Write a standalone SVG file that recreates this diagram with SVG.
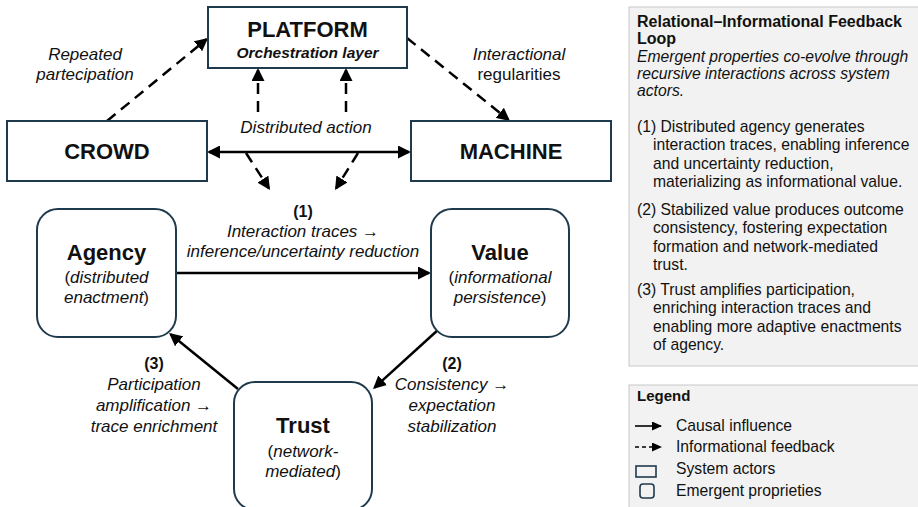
<svg xmlns="http://www.w3.org/2000/svg" width="918" height="507" viewBox="0 0 918 507">
  <defs>
    <marker id="head" markerUnits="userSpaceOnUse" viewBox="0 0 13 13" markerWidth="13" markerHeight="13" refX="11" refY="6.5" orient="auto-start-reverse">
      <path d="M0,0 L13,6.5 L0,13 Z" fill="#000"/>
    </marker>
    <marker id="headSm" markerUnits="userSpaceOnUse" viewBox="0 0 10 9" markerWidth="10" markerHeight="9" refX="9" refY="4.5" orient="auto">
      <path d="M0,0 L10,4.5 L0,9 Z" fill="#000"/>
    </marker>
  </defs>
  <style>
    text { font-family: "Liberation Sans", Arial, sans-serif; fill: #111; }
    .actor { fill: #fff; stroke: #1f3a4c; stroke-width: 2; }
    .prop { fill: #fff; stroke: #1f3a4c; stroke-width: 2; }
    .title { font-weight: bold; font-size: 22px; text-anchor: middle; }
    .sub { font-size: 17px; text-anchor: middle; }
    .it { font-style: italic; }
    .lbl { font-size: 17px; font-style: italic; text-anchor: middle; }
    .num { font-size: 16px; font-weight: bold; text-anchor: middle; font-style: normal; }
    .flow { stroke: #000; stroke-width: 2.5; fill: none; marker-end: url(#head); }
    .dash { stroke-dasharray: 11 7; }
    .panel { fill: #f2f2f2; stroke: #c8c8c8; stroke-width: 1; }
    .ptxt { font-size: 15.7px; }
    .phead { font-size: 16px; font-weight: bold; }
    .leg { stroke: #000; stroke-width: 1.6; fill: none; marker-end: url(#headSm); }
  </style>

  <rect width="918" height="507" fill="#fff"/>

  <!-- connectors -->
  <g id="connectors">
    <!-- actor-level informational feedback -->
    <line class="flow dash" x1="107" y1="121" x2="206.5" y2="39.3"/>
    <line class="flow dash" x1="407" y1="38" x2="508.4" y2="119.7"/>
    <line class="flow dash" x1="258" y1="112" x2="258" y2="70"/>
    <line class="flow dash" x1="346" y1="112" x2="346" y2="70"/>
    <line class="flow" x1="209" y1="152" x2="409" y2="152" style="marker-start:url(#head)"/>
    <line class="flow dash" x1="246" y1="153" x2="268.9" y2="188.3"/>
    <line class="flow dash" x1="358" y1="153" x2="336.1" y2="188.3"/>
    <!-- emergent loop -->
    <line class="flow" x1="176" y1="273" x2="429" y2="273"/>
    <line class="flow" x1="439" y1="329" x2="374.5" y2="387.7"/>
    <line class="flow" x1="238" y1="389" x2="170.6" y2="334.3"/>
  </g>

  <!-- connector labels -->
  <g id="labels">
    <text class="lbl" x="85" y="60">Repeated</text>
    <text class="lbl" x="85" y="80">partecipation</text>
    <text class="lbl" x="519" y="60">Interactional</text>
    <text class="sub" x="519" y="80">regularities</text>
    <text class="lbl" x="306" y="133">Distributed action</text>

    <text class="num" x="303" y="217">(1)</text>
    <text class="lbl" x="303" y="237">Interaction traces →</text>
    <text class="lbl" x="303" y="257">inference/uncertainty reduction</text>

    <text class="num" x="452" y="369">(2)</text>
    <text class="lbl" x="452" y="390">Consistency →</text>
    <text class="lbl" x="452" y="411">expectation</text>
    <text class="lbl" x="452" y="432">stabilization</text>

    <text class="num" x="154" y="369">(3)</text>
    <text class="lbl" x="154" y="390">Participation</text>
    <text class="lbl" x="154" y="411">amplification →</text>
    <text class="lbl" x="154" y="432">trace enrichment</text>
  </g>

  <!-- system actors -->
  <g id="platform">
    <rect class="actor" x="208" y="7" width="199" height="61"/>
    <text class="title" x="307.5" y="37">PLATFORM</text>
    <text x="307.5" y="58" style="font-size:15.5px;font-weight:bold;font-style:italic;text-anchor:middle">Orchestration layer</text>
  </g>
  <g id="crowd">
    <rect class="actor" x="7" y="121" width="200" height="60"/>
    <text class="title" x="107" y="159">CROWD</text>
  </g>
  <g id="machine">
    <rect class="actor" x="411" y="121" width="200" height="60"/>
    <text class="title" x="511" y="159">MACHINE</text>
  </g>

  <!-- emergent properties -->
  <g id="agency">
    <rect class="prop" x="37" y="209" width="139" height="128" rx="21"/>
    <text class="title" x="106.5" y="260">Agency</text>
    <text class="sub" x="106.5" y="283">(<tspan class="it">distributed</tspan></text>
    <text class="sub" x="106.5" y="303"><tspan class="it">enactment</tspan>)</text>
  </g>
  <g id="value">
    <rect class="prop" x="431" y="209" width="138" height="128" rx="21"/>
    <text class="title" x="500" y="260">Value</text>
    <text class="sub" x="500" y="283">(<tspan class="it">informational</tspan></text>
    <text class="sub" x="500" y="303"><tspan class="it">persistence</tspan>)</text>
  </g>
  <g id="trust">
    <rect class="prop" x="234" y="382" width="138" height="128" rx="21"/>
    <text class="title" x="303" y="433">Trust</text>
    <text class="sub" x="303" y="457">(<tspan class="it">network-</tspan></text>
    <text class="sub" x="303" y="477"><tspan class="it">mediated</tspan>)</text>
  </g>

  <!-- explanation panel -->
  <g id="explanation">
    <rect class="panel" x="629" y="7" width="300" height="359"/>
    <text class="phead" x="637" y="27">Relational–Informational Feedback</text>
    <text class="phead" x="637" y="44">Loop</text>
    <text class="ptxt it" x="637" y="62">Emergent properties co-evolve through</text>
    <text class="ptxt it" x="637" y="79">recursive interactions across system</text>
    <text class="ptxt it" x="637" y="96">actors.</text>

    <text class="ptxt" x="637" y="132">(1) Distributed agency generates</text>
    <text class="ptxt" x="653" y="150.3">interaction traces, enabling inference</text>
    <text class="ptxt" x="653" y="168.6">and uncertainty reduction,</text>
    <text class="ptxt" x="653" y="186.9">materializing as informational value.</text>

    <text class="ptxt" x="637" y="215">(2) Stabilized value produces outcome</text>
    <text class="ptxt" x="653" y="233.3">consistency, fostering expectation</text>
    <text class="ptxt" x="653" y="251.6">formation and network-mediated</text>
    <text class="ptxt" x="653" y="269.9">trust.</text>

    <text class="ptxt" x="637" y="295">(3) Trust amplifies participation,</text>
    <text class="ptxt" x="653" y="313.3">enriching interaction traces and</text>
    <text class="ptxt" x="653" y="331.6">enabling more adaptive enactments</text>
    <text class="ptxt" x="653" y="349.9">of agency.</text>
  </g>

  <!-- legend -->
  <g id="legend">
    <rect class="panel" x="629" y="385" width="300" height="130"/>
    <text x="637" y="401" style="font-size:15px;font-weight:bold">Legend</text>
    <line class="leg" x1="635" y1="426" x2="661" y2="426"/>
    <text class="ptxt" x="676" y="431">Causal influence</text>
    <line class="leg" x1="635" y1="447" x2="661" y2="447" stroke-dasharray="4 3"/>
    <text class="ptxt" x="676" y="452">Informational feedback</text>
    <rect x="636" y="466" width="20" height="11" fill="none" stroke="#1f3a4c" stroke-width="1.6"/>
    <text class="ptxt" x="676" y="474">System actors</text>
    <rect x="640" y="484" width="14" height="14" rx="3" fill="none" stroke="#1f3a4c" stroke-width="1.6"/>
    <text class="ptxt" x="676" y="496">Emergent proprieties</text>
  </g>
</svg>
